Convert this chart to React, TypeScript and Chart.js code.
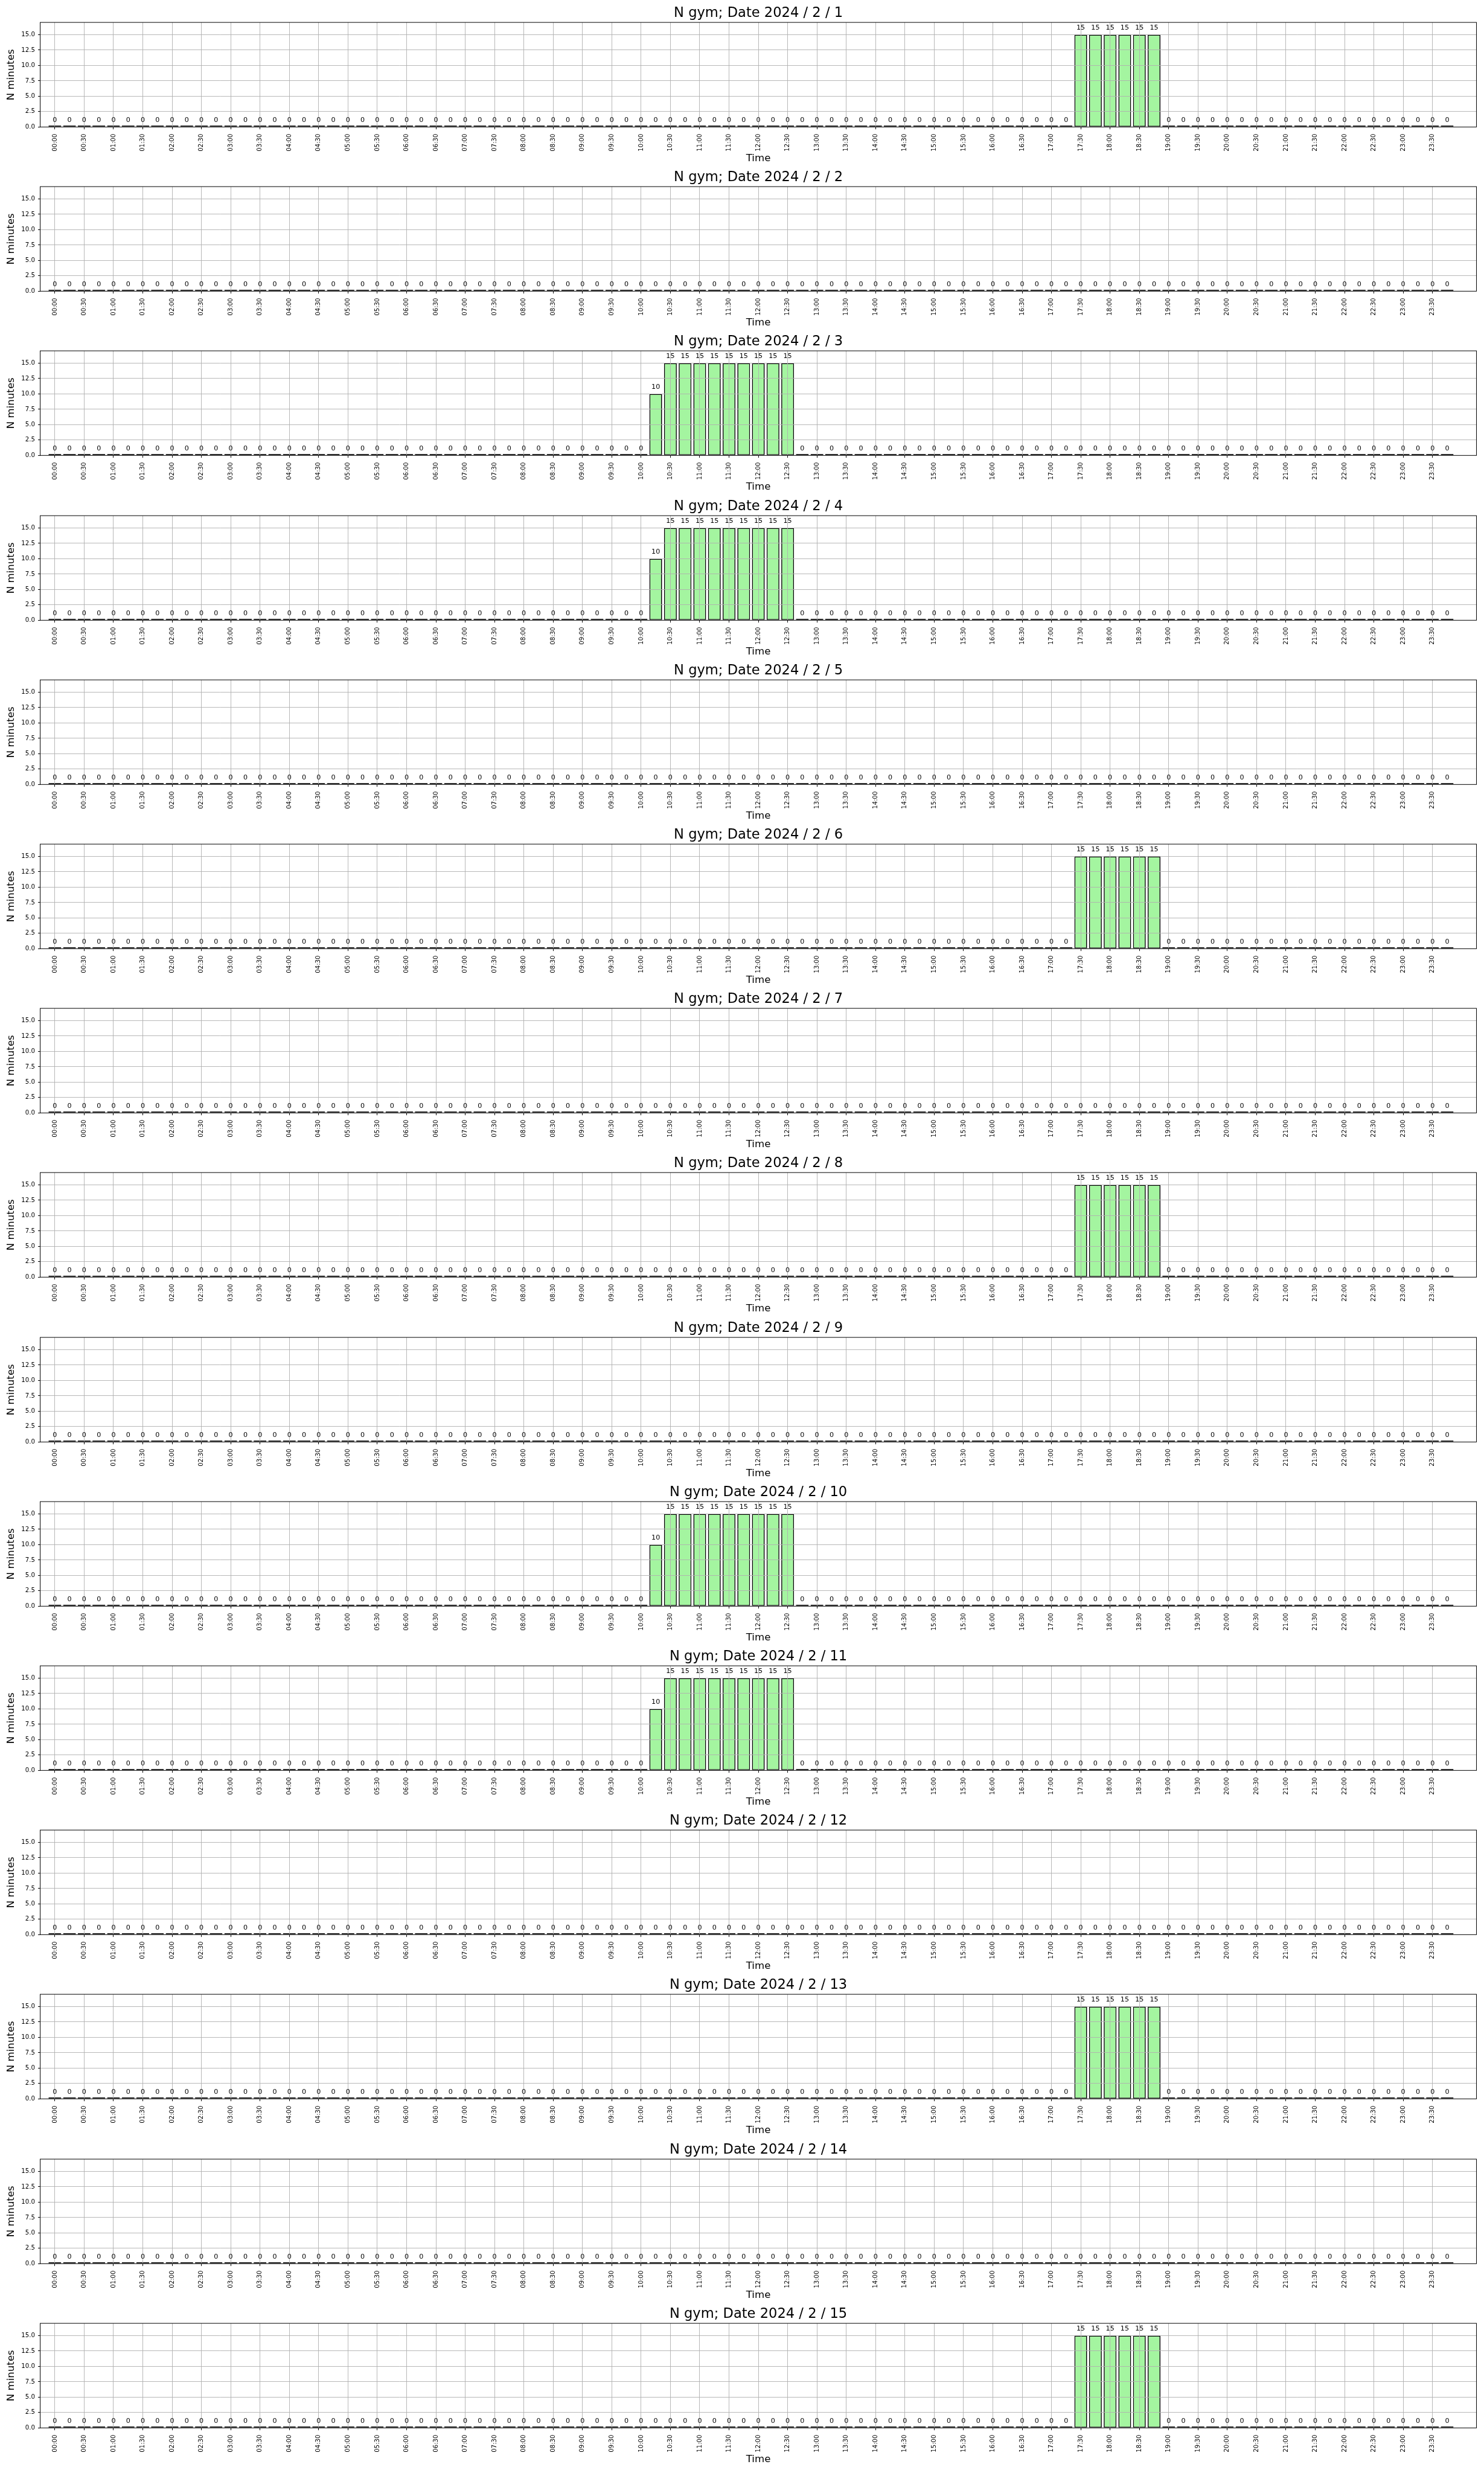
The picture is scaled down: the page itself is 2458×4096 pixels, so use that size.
import React, { useEffect, useRef } from 'react';
import { Chart, registerables } from 'chart.js';

Chart.register(...registerables);

// ---------- data ----------
const SLOT_LABELS = [
  '00:00', '00:15', '00:30', '00:45', '01:00', '01:15', '01:30', '01:45',
  '02:00', '02:15', '02:30', '02:45', '03:00', '03:15', '03:30', '03:45',
  '04:00', '04:15', '04:30', '04:45', '05:00', '05:15', '05:30', '05:45',
  '06:00', '06:15', '06:30', '06:45', '07:00', '07:15', '07:30', '07:45',
  '08:00', '08:15', '08:30', '08:45', '09:00', '09:15', '09:30', '09:45',
  '10:00', '10:15', '10:30', '10:45', '11:00', '11:15', '11:30', '11:45',
  '12:00', '12:15', '12:30', '12:45', '13:00', '13:15', '13:30', '13:45',
  '14:00', '14:15', '14:30', '14:45', '15:00', '15:15', '15:30', '15:45',
  '16:00', '16:15', '16:30', '16:45', '17:00', '17:15', '17:30', '17:45',
  '18:00', '18:15', '18:30', '18:45', '19:00', '19:15', '19:30', '19:45',
  '20:00', '20:15', '20:30', '20:45', '21:00', '21:15', '21:30', '21:45',
  '22:00', '22:15', '22:30', '22:45', '23:00', '23:15', '23:30', '23:45',
];

const TICK_LABELS = [
  '00:00', '00:30', '01:00', '01:30', '02:00', '02:30', '03:00', '03:30',
  '04:00', '04:30', '05:00', '05:30', '06:00', '06:30', '07:00', '07:30',
  '08:00', '08:30', '09:00', '09:30', '10:00', '10:30', '11:00', '11:30',
  '12:00', '12:30', '13:00', '13:30', '14:00', '14:30', '15:00', '15:30',
  '16:00', '16:30', '17:00', '17:30', '18:00', '18:30', '19:00', '19:30',
  '20:00', '20:30', '21:00', '21:30', '22:00', '22:30', '23:00', '23:30',
];

const Y_TICKS = [0, 2.5, 5, 7.5, 10, 12.5, 15];
const Y_MAX = 17;

const DATES = [
  '2024 / 2 / 1', '2024 / 2 / 2', '2024 / 2 / 3', '2024 / 2 / 4', '2024 / 2 / 5',
  '2024 / 2 / 6', '2024 / 2 / 7', '2024 / 2 / 8', '2024 / 2 / 9', '2024 / 2 / 10',
  '2024 / 2 / 11', '2024 / 2 / 12', '2024 / 2 / 13', '2024 / 2 / 14', '2024 / 2 / 15',
];

// minutes per 15-minute slot
const EVENING_SESSION = [
  0, 0, 0, 0, 0, 0, 0, 0,  0, 0, 0, 0, 0, 0, 0, 0,
  0, 0, 0, 0, 0, 0, 0, 0,  0, 0, 0, 0, 0, 0, 0, 0,
  0, 0, 0, 0, 0, 0, 0, 0,  0, 0, 0, 0, 0, 0, 0, 0,
  0, 0, 0, 0, 0, 0, 0, 0,  0, 0, 0, 0, 0, 0, 0, 0,
  0, 0, 0, 0, 0, 0, 15, 15,  15, 15, 15, 15, 0, 0, 0, 0,
  0, 0, 0, 0, 0, 0, 0, 0,  0, 0, 0, 0, 0, 0, 0, 0,
];

const MORNING_SESSION = [
  0, 0, 0, 0, 0, 0, 0, 0,  0, 0, 0, 0, 0, 0, 0, 0,
  0, 0, 0, 0, 0, 0, 0, 0,  0, 0, 0, 0, 0, 0, 0, 0,
  0, 0, 0, 0, 0, 0, 0, 0,  0, 10, 15, 15, 15, 15, 15, 15,
  15, 15, 15, 0, 0, 0, 0, 0,  0, 0, 0, 0, 0, 0, 0, 0,
  0, 0, 0, 0, 0, 0, 0, 0,  0, 0, 0, 0, 0, 0, 0, 0,
  0, 0, 0, 0, 0, 0, 0, 0,  0, 0, 0, 0, 0, 0, 0, 0,
];

const REST_DAY = [
  0, 0, 0, 0, 0, 0, 0, 0,  0, 0, 0, 0, 0, 0, 0, 0,
  0, 0, 0, 0, 0, 0, 0, 0,  0, 0, 0, 0, 0, 0, 0, 0,
  0, 0, 0, 0, 0, 0, 0, 0,  0, 0, 0, 0, 0, 0, 0, 0,
  0, 0, 0, 0, 0, 0, 0, 0,  0, 0, 0, 0, 0, 0, 0, 0,
  0, 0, 0, 0, 0, 0, 0, 0,  0, 0, 0, 0, 0, 0, 0, 0,
  0, 0, 0, 0, 0, 0, 0, 0,  0, 0, 0, 0, 0, 0, 0, 0,
];

const DAY_VALUES = [
  EVENING_SESSION, REST_DAY, MORNING_SESSION, MORNING_SESSION, REST_DAY,
  EVENING_SESSION, REST_DAY, EVENING_SESSION, REST_DAY, MORNING_SESSION,
  MORNING_SESSION, REST_DAY, EVENING_SESSION, REST_DAY, EVENING_SESSION,
];

// ---------- layout (reference px * S) ----------
const S = 0.819;
const W = 2458;
const SLOT_PITCH = 332.36 * S;
const CANVAS_H = 273;
const FONT = '"DejaVu Sans", "Liberation Sans", sans-serif';

const AREA_LEFT = 81.3 * S;
const AREA_RIGHT = 2986 * S;
const AREA_TOP = 45.3 * S;
const AREA_BOTTOM = 256.8 * S;

const TITLE_SIZE = 27.6 * S;
const TITLE_CENTER = 27.5 * S;
const AXIS_TITLE_SIZE = 20.3 * S;
const TICK_SIZE = 12.4 * S;
const VALUE_SIZE = 13.6 * S;
const VALUE_OFFSET = 14 * S;
const EDGE_WIDTH = 2 * S;

const valueLabelPlugin = {
  id: 'valueLabels',
  afterDraw(chart: any) {
    const ctx = chart.ctx;
    const meta = chart.getDatasetMeta(0);
    const yScale = chart.scales.y;
    const data = chart.data.datasets[0].data as { x: number; y: number }[];
    ctx.save();
    ctx.font = `${VALUE_SIZE}px ${FONT}`;
    ctx.fillStyle = '#000000';
    ctx.textAlign = 'center';
    ctx.textBaseline = 'middle';
    meta.data.forEach((bar: any, i: number) => {
      const v = data[i].y;
      ctx.fillText(String(v), bar.x, yScale.getPixelForValue(v) - VALUE_OFFSET);
    });
    ctx.restore();
  },
};

const framePlugin = {
  id: 'frame',
  afterDraw(chart: any) {
    const { left, top, right, bottom } = chart.chartArea;
    const ctx = chart.ctx;
    ctx.save();
    ctx.strokeStyle = '#000000';
    ctx.lineWidth = 1;
    ctx.strokeRect(left, top, right - left, bottom - top);
    ctx.restore();
  },
};

export default function App() {
  const refs = useRef<(HTMLCanvasElement | null)[]>([]);

  useEffect(() => {
    document.body.style.margin = '0';
    document.body.style.background = '#ffffff';
    const tickValues = TICK_LABELS.map((l) => SLOT_LABELS.indexOf(l));
    const titleLine = TITLE_SIZE * 1.2;
    const titlePadTop = TITLE_CENTER - titleLine / 2;
    const titlePadBottom = AREA_TOP - titlePadTop - titleLine;
    const axisLine = AXIS_TITLE_SIZE * 1.2;
    const slotPx = (AREA_RIGHT - AREA_LEFT) / 98;
    const barPct = (0.8 * slotPx + EDGE_WIDTH) / slotPx;

    const charts = DAY_VALUES.map((values, d) => {
      const canvas = refs.current[d]!;
      return new Chart(canvas, {
        type: 'bar',
        data: {
          datasets: [
            {
              data: values.map((v, i) => ({ x: i, y: v })),
              backgroundColor: '#a4f5a0',
              borderColor: '#000000',
              borderWidth: EDGE_WIDTH,
              borderSkipped: false,
              minBarLength: 2.2,
              barPercentage: barPct,
              categoryPercentage: 1.0,
            },
          ],
        },
        options: {
          responsive: false,
          animation: false,
          devicePixelRatio: 1,
          events: [],
          layout: { padding: { left: 0, right: W - AREA_RIGHT, top: 0, bottom: 0 } },
          plugins: {
            legend: { display: false },
            tooltip: { enabled: false },
            title: {
              display: true,
              fullSize: false,
              text: `N gym; Date ${DATES[d]}`,
              color: '#000000',
              font: { family: FONT, size: TITLE_SIZE, weight: 'normal', lineHeight: 1.2 },
              padding: { top: titlePadTop, bottom: titlePadBottom },
            },
          },
          scales: {
            x: {
              type: 'linear',
              min: -1,
              max: 97,
              offset: false,
              afterBuildTicks: (scale: any) => {
                scale.ticks = tickValues.map((v) => ({ value: v }));
              },
              afterFit: (scale: any) => {
                scale.height = CANVAS_H - AREA_BOTTOM;
              },
              ticks: {
                autoSkip: false,
                minRotation: 90,
                maxRotation: 90,
                padding: 9 * S,
                color: '#000000',
                font: { family: FONT, size: TICK_SIZE },
                callback: (value: any) => SLOT_LABELS[Number(value)],
              },
              grid: {
                offset: false,
                color: '#b0b0b0',
                lineWidth: 0.9,
                z: 1,
                drawTicks: true,
                tickLength: 4.7 * S,
                tickColor: '#000000',
                tickWidth: 1,
              },
              border: { display: false },
              title: {
                display: true,
                text: 'Time',
                color: '#000000',
                font: { family: FONT, size: AXIS_TITLE_SIZE, lineHeight: 1.2 },
                padding: { top: 0, bottom: CANVAS_H - 320.2 * S - axisLine / 2 },
              },
            },
            y: {
              type: 'linear',
              min: 0,
              max: Y_MAX,
              afterBuildTicks: (scale: any) => {
                scale.ticks = Y_TICKS.map((v) => ({ value: v }));
              },
              afterFit: (scale: any) => {
                scale.width = AREA_LEFT;
              },
              ticks: {
                padding: 6.2 * S,
                color: '#000000',
                font: { family: FONT, size: TICK_SIZE },
                callback: (value: any) => Number(value).toFixed(1),
              },
              grid: {
                color: (c: any) => (c.tick && c.tick.value === 0 ? 'rgba(0,0,0,0)' : '#b0b0b0'),
                lineWidth: 0.9,
                z: 1,
                drawTicks: true,
                tickLength: 4.4 * S,
                tickColor: '#000000',
                tickWidth: 1,
              },
              border: { display: false },
              title: {
                display: true,
                text: 'N minutes',
                color: '#000000',
                font: { family: FONT, size: AXIS_TITLE_SIZE, lineHeight: 1.2 },
                padding: { top: 22.8 * S - axisLine / 2, bottom: 0 },
              },
            },
          },
        },
        plugins: [framePlugin, valueLabelPlugin],
      } as any);
    });

    return () => {
      charts.forEach((c) => c.destroy());
    };
  }, []);

  return (
    <div style={{ position: 'relative', width: W, height: 4096, background: '#ffffff' }}>
      {DAY_VALUES.map((_, d) => (
        <canvas
          key={d}
          ref={(el) => {
            refs.current[d] = el;
          }}
          width={W}
          height={CANVAS_H}
          style={{
            position: 'absolute',
            left: 0,
            top: Math.round(d * SLOT_PITCH),
            width: W,
            height: CANVAS_H,
          }}
        />
      ))}
    </div>
  );
}
